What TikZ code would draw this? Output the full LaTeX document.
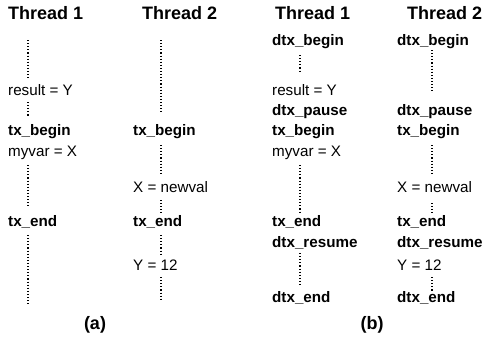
\documentclass[tikz,border=0pt]{standalone}
\usepackage{fontspec}
\setmainfont{Liberation Sans}
\begin{document}
\begin{tikzpicture}[x=1pt,y=-1pt,
  txt/.style={anchor=west, inner sep=0pt, font=\fontsize{15.2}{18}\selectfont},
  kw/.style={anchor=west, inner sep=0pt, font=\fontsize{15.2}{18}\selectfont\bfseries},
  hdr/.style={anchor=west, inner sep=0pt, font=\fontsize{18}{21}\selectfont\bfseries},
  sublabel/.style={inner sep=0pt, font=\fontsize{18}{21}\selectfont\bfseries},
  dots/.style={line width=1.2pt, dash pattern=on 1.1pt off 2pt}]
\useasboundingbox (0,0) rectangle (483,341);
% ---------- (a) ----------
\node[hdr] (ah1) at (8,13) {Thread 1};
\node[hdr] (ah2) at (142,13) {Thread 2};
% thread 1
\node[txt] (a1res) at (8,90) {result = Y};
\node[kw]  (a1tb)  at (8,132) {tx\_begin};
\node[txt] (a1my)  at (8,153) {myvar = X};
\node[kw]  (a1te)  at (8,222) {tx\_end};
\coordinate (a1d1s) at (28,40);  \coordinate (a1d1e) at (28,80);
\coordinate (a1d2s) at (28,102); \coordinate (a1d2e) at (28,116);
\coordinate (a1d3s) at (28,165); \coordinate (a1d3e) at (28,206);
\coordinate (a1d4s) at (28,235); \coordinate (a1d4e) at (28,304);
\draw[dots] (a1d1s) -- (a1d1e);
\draw[dots] (a1d2s) -- (a1d2e);
\draw[dots] (a1d3s) -- (a1d3e);
\draw[dots] (a1d4s) -- (a1d4e);
% thread 2
\node[kw]  (a2tb)  at (133,132) {tx\_begin};
\node[txt] (a2x)   at (133,187) {X = newval};
\node[kw]  (a2te)  at (133,222) {tx\_end};
\node[txt] (a2y)   at (133,265) {Y = 12};
\coordinate (a2d1s) at (161,40);  \coordinate (a2d1e) at (161,114);
\coordinate (a2d2s) at (161,145); \coordinate (a2d2e) at (161,174);
\coordinate (a2d3s) at (161,200); \coordinate (a2d3e) at (161,213);
\coordinate (a2d4s) at (161,235); \coordinate (a2d4e) at (161,254);
\coordinate (a2d5s) at (161,277); \coordinate (a2d5e) at (161,301);
\draw[dots] (a2d1s) -- (a2d1e);
\draw[dots] (a2d2s) -- (a2d2e);
\draw[dots] (a2d3s) -- (a2d3e);
\draw[dots] (a2d4s) -- (a2d4e);
\draw[dots] (a2d5s) -- (a2d5e);
\node[sublabel] (capa) at (95,325) {(a)};
% ---------- (b) ----------
\node[hdr] (bh1) at (275,13) {Thread 1};
\node[hdr] (bh2) at (407,13) {Thread 2};
% thread 1
\node[kw]  (b1db)  at (272,42)  {dtx\_begin};
\node[txt] (b1res) at (272,90)  {result = Y};
\node[kw]  (b1dp)  at (272,112) {dtx\_pause};
\node[kw]  (b1tb)  at (272,132) {tx\_begin};
\node[txt] (b1my)  at (272,153) {myvar = X};
\node[kw]  (b1te)  at (272,222) {tx\_end};
\node[kw]  (b1dr)  at (272,243) {dtx\_resume};
\node[kw]  (b1de)  at (272,298) {dtx\_end};
\coordinate (b1d1s) at (300,55);  \coordinate (b1d1e) at (300,73);
\coordinate (b1d2s) at (300,165); \coordinate (b1d2e) at (300,213);
\coordinate (b1d3s) at (300,253); \coordinate (b1d3e) at (300,286);
\draw[dots] (b1d1s) -- (b1d1e);
\draw[dots] (b1d2s) -- (b1d2e);
\draw[dots] (b1d3s) -- (b1d3e);
% thread 2
\node[kw]  (b2db)  at (397,42)  {dtx\_begin};
\node[kw]  (b2dp)  at (397,112) {dtx\_pause};
\node[kw]  (b2tb)  at (397,132) {tx\_begin};
\node[txt] (b2x)   at (397,187) {X = newval};
\node[kw]  (b2te)  at (397,222) {tx\_end};
\node[kw]  (b2dr)  at (397,243) {dtx\_resume};
\node[txt] (b2y)   at (397,265) {Y = 12};
\node[kw]  (b2de)  at (397,298) {dtx\_end};
\coordinate (b2d1s) at (432,50);  \coordinate (b2d1e) at (432,93);
\coordinate (b2d2s) at (432,145); \coordinate (b2d2e) at (432,174);
\coordinate (b2d3s) at (432,203); \coordinate (b2d3e) at (432,214);
\coordinate (b2d4s) at (432,277); \coordinate (b2d4e) at (432,291);
\draw[dots] (b2d1s) -- (b2d1e);
\draw[dots] (b2d2s) -- (b2d2e);
\draw[dots] (b2d3s) -- (b2d3e);
\draw[dots] (b2d4s) -- (b2d4e);
\node[sublabel] (capb) at (372,325) {(b)};
\end{tikzpicture}
\end{document}
